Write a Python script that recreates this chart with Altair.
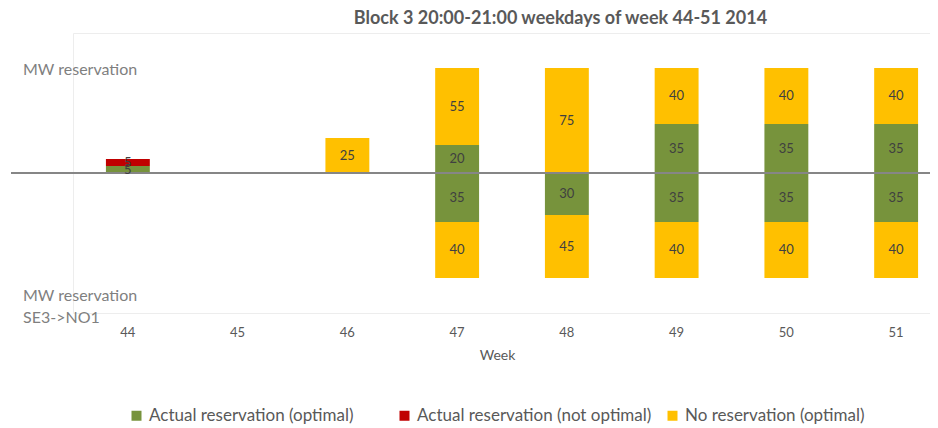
import altair as alt
import pandas as pd

weeks = ["44", "45", "46", "47", "48", "49", "50", "51"]
categories = ["Actual reservation (optimal)", "Actual reservation (not optimal)", "No reservation (optimal)"]
colors = ["#77933C", "#C00000", "#FFC000"]

green_up = [5, 0, 0, 20, 0, 35, 35, 35]
red_up = [5, 0, 0, 0, 0, 0, 0, 0]
yellow_up = [0, 0, 25, 55, 75, 40, 40, 40]
green_down = [0, 0, 0, 35, 30, 35, 35, 35]
yellow_down = [0, 0, 0, 40, 45, 40, 40, 40]

rows = []
for i, w in enumerate(weeks):
    for ci, series, sign in [(0, green_up, 1), (1, red_up, 1), (2, yellow_up, 1),
                             (0, green_down, -1), (2, yellow_down, -1)]:
        v = series[i]
        if v:
            rows.append(dict(week=w, cat=categories[ci], order=ci, value=sign * v, label=v))
df = pd.DataFrame(rows)

FONT = "Lato"

xenc = alt.X(
    "week:N",
    scale=alt.Scale(domain=weeks, range=[0, 878], paddingInner=0.6, paddingOuter=0.3),
    axis=alt.Axis(
        title="Week", labelAngle=0, domain=False, ticks=False, labelPadding=13,
        labelFontSize=13, labelColor="#595959", labelFont=FONT,
        titleFont=FONT, titleFontSize=14, titleFontWeight="normal", titleColor="#595959",
        titleX=424, titleY=42, titleBaseline="middle", titleAlign="center",
    ),
)
yscale = alt.Scale(domain=[-100, 100], nice=False)

base = alt.Chart(df).transform_stack(
    stack="value", groupby=["week"], as_=["y0", "y1"],
    sort=[alt.SortField("order", "ascending")],
).transform_calculate(mid="(datum.y0 + datum.y1) / 2")

bars = base.mark_bar().encode(
    x=xenc,
    y=alt.Y("y0:Q", scale=yscale, axis=None),
    y2="y1:Q",
    color=alt.Color(
        "cat:N",
        scale=alt.Scale(domain=categories, range=colors),
        legend=alt.Legend(
            title=None, orient="none", legendX=55, legendY=374, direction="horizontal",
            columns=3, gridAlign="all", columnPadding=12, symbolType="square",
            symbolSize=100, symbolStrokeWidth=0, labelFontSize=17, labelColor="#595959",
            labelFont=FONT, labelLimit=400, padding=0,
        ),
    ),
)

zero = alt.Chart(pd.DataFrame({"zero": [0]})).mark_rule(color="#868686", strokeWidth=2).encode(
    y=alt.Y("zero:Q", scale=yscale, axis=None),
    x=alt.value(-62),
    x2=alt.value(857),
)

labels = base.mark_text(fontSize=13, color="#404040", font=FONT, baseline="middle").encode(
    x=xenc,
    y=alt.Y("mid:Q", scale=yscale, axis=None),
    text="label:Q",
)

ann = pd.DataFrame({"t": ["MW reservation", "MW reservation\nSE3->NO1"], "py": [29, 255]})
side = alt.Chart(ann).mark_text(
    align="left", baseline="top", fontSize=16, color="#7f7f7f", font=FONT, lineBreak="\n", lineHeight=22,
).encode(x=alt.value(-50), y=alt.Y("py:Q", scale=None), text="t:N")

chart = alt.layer(bars, zero, labels, side).properties(
    width=857, height=280,
    autosize=alt.AutoSizeParams(type="none"),
    padding={"left": 65, "top": 25, "right": 0, "bottom": 112},
    title=alt.TitleParams(
        "Block 3 20:00-21:00 weekdays of week 44-51 2014", fontSize=18, font=FONT,
        fontWeight="bold", color="#595959", anchor="middle", frame="group", dx=59, offset=5,
    ),
).configure_view(stroke="#ededed")

chart.save("out.html", embed_options={"renderer": "svg", "actions": False})
